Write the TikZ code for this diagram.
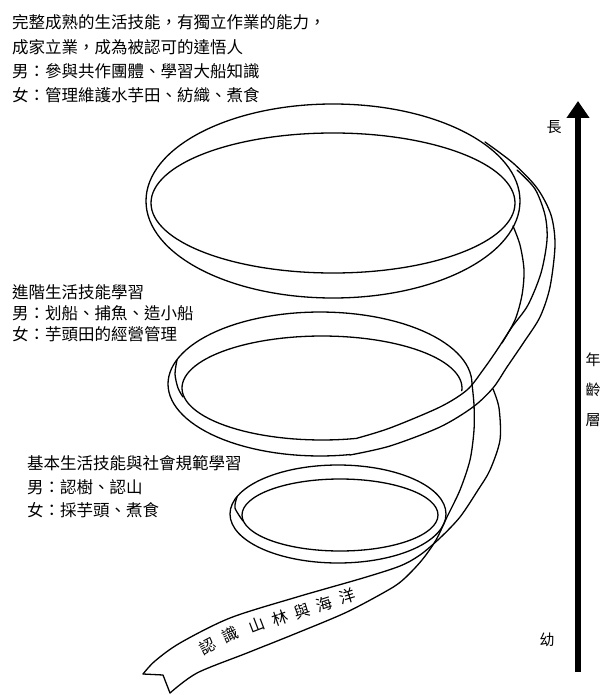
\documentclass[tikz,border=0pt]{standalone}
\usepackage{fontspec}
\newfontfamily\cjk{Noto Sans CJK TC}
\usetikzlibrary{arrows.meta}
\begin{document}
\begin{tikzpicture}[x=1pt,y=-1pt,
  edge/.style={line width=1.3pt, line join=round, line cap=round},
  lbl/.style={anchor=west, inner sep=0pt, font=\cjk\fontsize{16.5}{18}\selectfont},
  side/.style={inner sep=0pt, font=\cjk\fontsize{15}{16}\selectfont},
  rib/.style={inner sep=0pt, font=\cjk\fontsize{16}{17}\selectfont}]
\useasboundingbox (0,0) rectangle (602,695);

% ---- top loop ----
\draw[edge] (333,201) ellipse [x radius=187pt, y radius=97pt];
\draw[edge] (333,203) ellipse [x radius=182pt, y radius=70pt];
% strip falling from the top loop to the middle loop
\draw[edge] plot[smooth] coordinates {(485,142) (513,163) (537,188) (551,215) (555,245) (550,287) (540,317) (524,342) (507,367) (493,388) (473,407) (440,427) (390,446) (350,455)};
\draw[edge] plot[smooth] coordinates {(517,170) (535,189) (545,215) (547,240) (541,273) (528,305) (512,327) (497,350) (483,370) (467,390) (440,407) (390,428) (356,438.5)};
\draw[edge] plot[smooth] coordinates {(513,226) (520,245) (524,270) (522,295) (515,320) (502,343)};

% ---- middle loop ----
\draw[edge] plot[domain=78.6:360, samples=90] ({320+152*cos(\x)},{384+72*sin(\x)});
\draw[edge] plot[domain=76:363, samples=90] ({322+140*cos(\x)},{388+52*sin(\x)});
\draw[edge] plot[smooth] coordinates {(177,360) (175,374) (178,388) (183,397)};

% ---- small loop ----
\draw[edge] (338,514) ellipse [x radius=108pt, y radius=49pt];
\draw[edge] (340,515) ellipse [x radius=98pt, y radius=36pt];
\draw[edge] plot[smooth] coordinates {(237,497) (235,508) (243,521)};

% ---- strip from the middle loop down to the tail ----
\draw[edge] plot[smooth] coordinates {(472,384) (474,405) (474,430) (470,460) (460,490) (447,517) (436,540) (422,560) (405,578) (390,589) (347,612) (297,633) (247,653) (197,673) (170,693)};
\draw[edge] plot[smooth] coordinates {(493,389) (499,408) (500,440) (490,470) (478,490) (460,517) (440,538) (420,555) (400,566) (363,578) (297,597) (230,618) (180,643) (155,661) (143,674)};
% forked end of the tail
\draw[edge] (143,674) -- (163,675) -- (170,693);

% ---- text along the tail ----
\node[rib, rotate=28] (r1) at (208,646) {認};
\node[rib, rotate=25] (r2) at (230,635) {識};
\node[rib, rotate=21] (r3) at (257,625) {山};
\node[rib, rotate=19] (r4) at (280,618) {林};
\node[rib, rotate=18] (r5) at (302,611) {與};
\node[rib, rotate=18] (r6) at (324,604) {海};
\node[rib, rotate=17] (r7) at (347,596) {洋};

% ---- stage descriptions ----
\node[lbl] (a1) at (12,22) {完整成熟的生活技能，有獨立作業的能力，};
\node[lbl] (a2) at (12,47) {成家立業，成為被認可的達悟人};
\node[lbl] (a3) at (12,71) {男：參與共作團體、學習大船知識};
\node[lbl] (a4) at (12,95) {女：管理維護水芋田、紡織、煮食};

\node[lbl] (b1) at (12,292) {進階生活技能學習};
\node[lbl] (b2) at (12,313) {男：划船、捕魚、造小船};
\node[lbl] (b3) at (12,334) {女：芋頭田的經營管理};

\node[lbl] (c1) at (27,463) {基本生活技能與社會規範學習};
\node[lbl] (c2) at (27,487) {男：認樹、認山};
\node[lbl] (c3) at (27,510) {女：採芋頭、煮食};

% ---- age axis ----
\coordinate (young) at (578,672);
\coordinate (old) at (578,101);
\draw[line width=6pt, -{Triangle[width=22pt,length=17pt]}] (young) -- (old);
\node[side] (old label) at (554,127) {長};
\node[side] (young label) at (547,640) {幼};
\node[side] (age1) at (593,360) {年};
\node[side] (age2) at (593,390) {齡};
\node[side] (age3) at (593,420) {層};
\end{tikzpicture}
\end{document}
